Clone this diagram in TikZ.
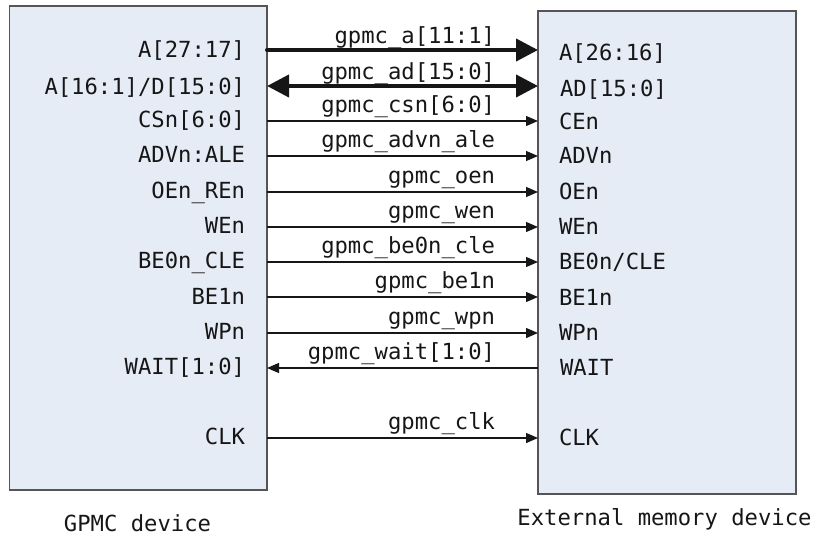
\documentclass[tikz,border=0pt]{standalone}
\usepackage{fontspec}
\setmonofont{DejaVu Sans Mono}
\usetikzlibrary{arrows.meta}
\definecolor{boxfill}{RGB}{230,236,246}
\definecolor{boxline}{RGB}{85,85,85}
\definecolor{ink}{RGB}{22,22,22}

\begin{document}
\begin{tikzpicture}[x=1pt,y=-1pt,
  devbox/.style={draw=boxline, line width=1.3pt, fill=boxfill, inner sep=0pt, outer sep=0pt, anchor=north west},
  pin/.style={font=\ttfamily\fontsize{22.2}{26}\selectfont, text=ink, inner sep=0pt, outer sep=0pt},
  pinl/.style={pin, anchor=base east},
  pinr/.style={pin, anchor=base west},
  sig/.style={pin, anchor=base east},
  caption/.style={pin, anchor=base},
  bus/.style={line width=4pt, draw=ink, -{Triangle[length=22pt,width=22pt]}},
  wire/.style={line width=1.3pt, draw=ink, -{Triangle[length=12pt,width=10pt]}},
]
\useasboundingbox (0,0) rectangle (817,535);

% the two devices
\node[devbox, minimum width=257.5pt, minimum height=484pt] (gpmc) at (9.5,6) {};
\node[devbox, minimum width=258pt, minimum height=483pt] (mem) at (538,11) {};

% signal rows
\coordinate (y1) at (0,50);
\coordinate (y2) at (0,86);
\coordinate (y3) at (0,121);
\coordinate (y4) at (0,156);
\coordinate (y5) at (0,192);
\coordinate (y6) at (0,227);
\coordinate (y7) at (0,262);
\coordinate (y8) at (0,297);
\coordinate (y9) at (0,333);
\coordinate (y10) at (0,368);
\coordinate (y11) at (0,438);

% GPMC side pins
\node[pinl] (l1) at (245,57.5) {A[27:17]};
\node[pinl] (l2) at (245,94.5) {A[16:1]/D[15:0]};
\node[pinl] (l3) at (245,128) {CSn[6:0]};
\node[pinl] (l4) at (245,162.5) {ADVn:ALE};
\node[pinl] (l5) at (245,198.5) {OEn\_REn};
\node[pinl] (l6) at (245,233.5) {WEn};
\node[pinl] (l7) at (245,268.5) {BE0n\_CLE};
\node[pinl] (l8) at (245,304) {BE1n};
\node[pinl] (l9) at (245,339.5) {WPn};
\node[pinl] (l10) at (245,374.5) {WAIT[1:0]};
\node[pinl] (l11) at (245,444.5) {CLK};

% memory side pins
\node[pinr] (r1) at (559,61) {A[26:16]};
\node[pinr] (r2) at (560,96.5) {AD[15:0]};
\node[pinr] (r3) at (559,129) {CEn};
\node[pinr] (r4) at (559,163.5) {ADVn};
\node[pinr] (r5) at (559,199) {OEn};
\node[pinr] (r6) at (559,234) {WEn};
\node[pinr] (r7) at (559,269) {BE0n/CLE};
\node[pinr] (r8) at (559,305) {BE1n};
\node[pinr] (r9) at (559,340) {WPn};
\node[pinr] (r10) at (560,375) {WAIT};
\node[pinr] (r11) at (559,445) {CLK};

% connectors
\draw[bus, line cap=round] (gpmc.east |- y1) -- (mem.west |- y1);
\draw[bus, {Triangle[length=22pt,width=22pt]}-{Triangle[length=22pt,width=22pt]}] (gpmc.east |- y2) -- (mem.west |- y2);
\draw[wire] (gpmc.east |- y3) -- (mem.west |- y3);
\draw[wire] (gpmc.east |- y4) -- (mem.west |- y4);
\draw[wire] (gpmc.east |- y5) -- (mem.west |- y5);
\draw[wire] (gpmc.east |- y6) -- (mem.west |- y6);
\draw[wire] (gpmc.east |- y7) -- (mem.west |- y7);
\draw[wire] (gpmc.east |- y8) -- (mem.west |- y8);
\draw[wire] (gpmc.east |- y9) -- (mem.west |- y9);
\draw[wire] (mem.west |- y10) -- (gpmc.east |- y10);
\draw[wire] (gpmc.east |- y11) -- (mem.west |- y11);

% signal names
\node[sig] (s1) at (495,43.5) {gpmc\_a[11:1]};
\node[sig] (s2) at (495,79.5) {gpmc\_ad[15:0]};
\node[sig] (s3) at (495,112) {gpmc\_csn[6:0]};
\node[sig] (s4) at (495,147) {gpmc\_advn\_ale};
\node[sig] (s5) at (495,183) {gpmc\_oen};
\node[sig] (s6) at (495,218) {gpmc\_wen};
\node[sig] (s7) at (495,253) {gpmc\_be0n\_cle};
\node[sig] (s8) at (495,288) {gpmc\_be1n};
\node[sig] (s9) at (495,324) {gpmc\_wpn};
\node[sig] (s10) at (495,359.5) {gpmc\_wait[1:0]};
\node[sig] (s11) at (495,429) {gpmc\_clk};

% device names
\node[caption] (cap1) at (137.5,531) {GPMC device};
\node[caption] (cap2) at (664.5,525.7) {External memory device};
\end{tikzpicture}
\end{document}
